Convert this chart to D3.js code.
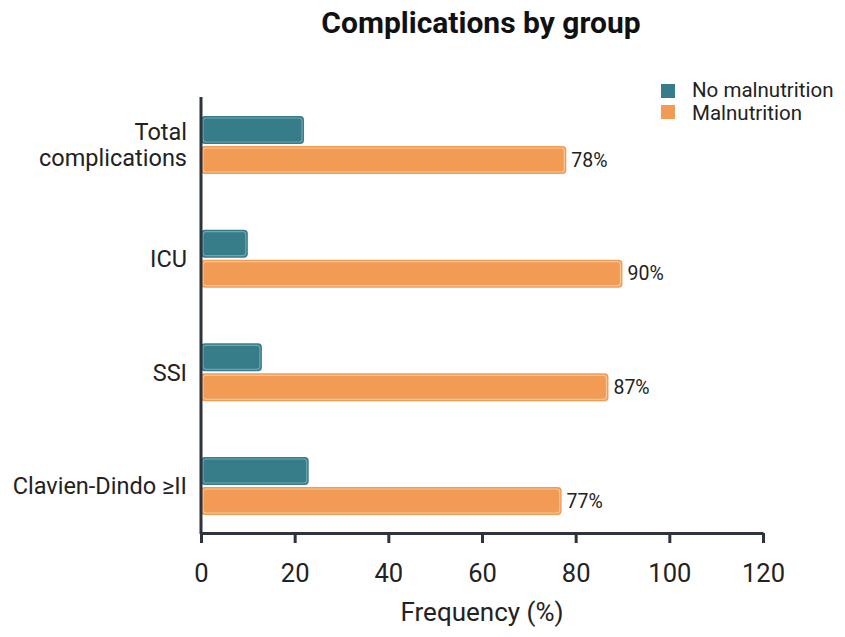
<!DOCTYPE html>
<html><head><meta charset="utf-8">
<script src="https://cdn.jsdelivr.net/npm/d3@7"></script>
<style>body{margin:0;background:#fff}svg{display:block;font-family:Roboto,sans-serif}</style>
</head><body><svg id="c" width="845" height="637"></svg>
<script>
const categories = [["Total","complications"],["ICU"],["SSI"],["Clavien-Dindo \u2265II"]];
const noMalnutrition = [22, 10, 13, 23];
const malnutrition = [78, 90, 87, 77];
const xTicks = [0, 20, 40, 60, 80, 100, 120];
const seriesNames = ["No malnutrition", "Malnutrition"];
const colors = ["#377c89", "#f29b55"];
const innerColors = ["#6ea5af", "#f8c697"];

const svg = d3.select("#c");
const x = d3.scaleLinear().domain([0, 120]).range([201, 763]);
const y = d3.scalePoint().domain(d3.range(categories.length)).range([145, 486]);
const axisColor = "#2e343d";
const textColor = "#222";

svg.append("text").attr("x", 481).attr("y", 33).attr("text-anchor", "middle")
  .attr("font-size", 30).attr("font-weight", 700).attr("fill", "#111").text("Complications by group");

const barH = 28;
function drawBars(vals, si, offset) {
  const g = svg.append("g");
  vals.forEach((v, i) => {
    const y0 = y(i) + offset;
    const w = x(v) - x(0);
    g.append("rect").attr("x", x(0)).attr("y", y0).attr("width", w).attr("height", barH)
      .attr("rx", 4).attr("fill", colors[si]);
    g.append("rect").attr("x", x(0) + 2).attr("y", y0 + 2).attr("width", w - 4).attr("height", barH - 4)
      .attr("rx", 3).attr("fill", "none").attr("stroke", innerColors[si]).attr("stroke-width", 1.2);
  });
}
drawBars(noMalnutrition, 0, -29);
drawBars(malnutrition, 1, 1);

malnutrition.forEach((v, i) => {
  svg.append("text").attr("x", x(v) + 5).attr("y", y(i) + 15).attr("dy", "0.35em")
    .attr("font-size", 19.5).attr("fill", textColor).text(v + "%");
});

// y axis
svg.append("line").attr("x1", 201).attr("x2", 201).attr("y1", 97).attr("y2", 534)
  .attr("stroke", axisColor).attr("stroke-width", 3);
// category labels
categories.forEach((lines, i) => {
  const t = svg.append("text").attr("x", 187).attr("text-anchor", "end")
    .attr("font-size", 23.5).attr("fill", textColor);
  const n = lines.length;
  lines.forEach((l, j) => {
    t.append("tspan").attr("x", 187).attr("y", y(i) + (j - (n - 1) / 2) * 26).attr("dy", "0.35em").text(l);
  });
});

// x axis
const xa = svg.append("g").attr("transform", "translate(0,533)")
  .call(d3.axisBottom(x).tickValues(xTicks).tickSize(10).tickPadding(21).tickSizeOuter(0));
xa.select(".domain").attr("stroke", axisColor).attr("stroke-width", 3);
xa.selectAll(".tick line").attr("stroke", axisColor).attr("stroke-width", 3);
xa.selectAll(".tick text").attr("font-size", 25.5).attr("fill", textColor).attr("font-family", "Roboto")
  .attr("dy", "0").attr("y", 49);

svg.append("text").attr("x", 482).attr("y", 621).attr("text-anchor", "middle")
  .attr("font-size", 26).attr("fill", textColor).text("Frequency (%)");

// legend
seriesNames.forEach((s, i) => {
  svg.append("rect").attr("x", 661).attr("y", 84 + i * 21).attr("width", 14).attr("height", 14).attr("fill", colors[i]);
  svg.append("text").attr("x", 692).attr("y", 96.5 + i * 23.5)
    .attr("font-size", 20.5).attr("fill", textColor).text(s);
});
</script></body></html>
